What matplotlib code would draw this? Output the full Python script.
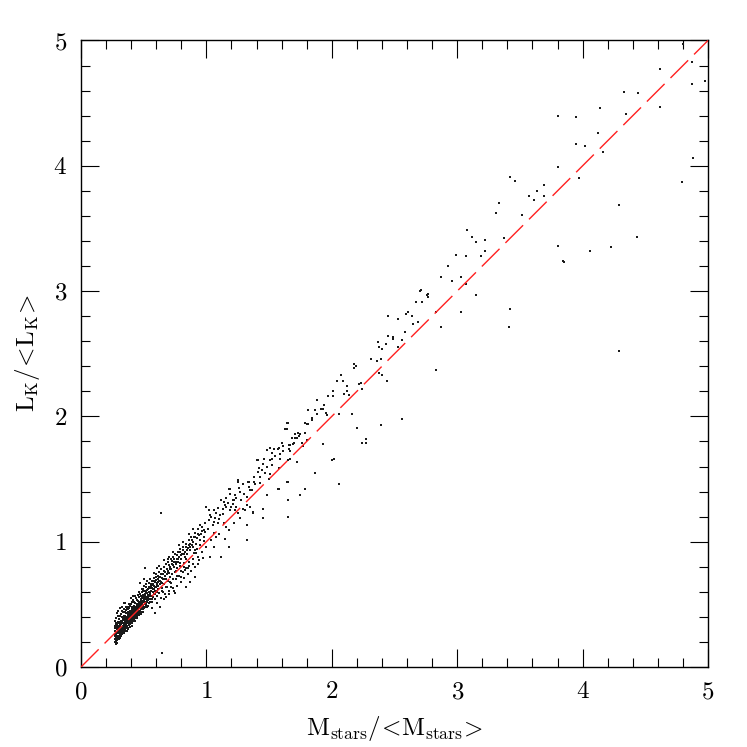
import numpy as np
import matplotlib
matplotlib.use("Agg")
import matplotlib.pyplot as plt
from matplotlib.ticker import MultipleLocator

plt.rcParams['mathtext.fontset'] = 'cm'
plt.rcParams['axes.formatter.use_mathtext'] = True

# dense core, M_stars/<M> ~ 0.27-0.50
core = [
    (0.270, 0.22), (0.270, 0.26), (0.272, 0.29), (0.271, 0.33), (0.274, 0.20), (0.276, 0.24),
    (0.277, 0.27), (0.275, 0.31), (0.278, 0.35), (0.281, 0.23), (0.282, 0.28), (0.280, 0.32),
    (0.283, 0.39), (0.280, 0.21), (0.286, 0.25), (0.288, 0.30), (0.285, 0.34), (0.287, 0.19),
    (0.291, 0.22), (0.292, 0.27), (0.290, 0.31), (0.293, 0.36), (0.296, 0.29), (0.297, 0.33),
    (0.298, 0.25), (0.295, 0.41), (0.301, 0.24), (0.302, 0.28), (0.300, 0.32), (0.304, 0.35),
    (0.306, 0.30), (0.307, 0.38), (0.309, 0.26), (0.311, 0.23), (0.312, 0.29), (0.314, 0.33),
    (0.313, 0.36), (0.316, 0.31), (0.317, 0.42), (0.318, 0.27), (0.321, 0.30), (0.322, 0.34),
    (0.320, 0.37), (0.324, 0.28), (0.326, 0.32), (0.325, 0.40), (0.328, 0.35), (0.331, 0.26),
    (0.332, 0.31), (0.330, 0.36), (0.334, 0.33), (0.336, 0.39), (0.337, 0.29), (0.338, 0.44),
    (0.341, 0.32), (0.342, 0.35), (0.340, 0.38), (0.344, 0.30), (0.346, 0.34), (0.347, 0.41),
    (0.349, 0.37), (0.351, 0.33), (0.352, 0.29), (0.350, 0.36), (0.354, 0.39), (0.356, 0.35),
    (0.357, 0.43), (0.358, 0.31), (0.361, 0.34), (0.362, 0.38), (0.360, 0.40), (0.364, 0.36),
    (0.366, 0.46), (0.367, 0.33), (0.369, 0.39), (0.371, 0.37), (0.372, 0.41), (0.370, 0.35),
    (0.374, 0.30), (0.376, 0.38), (0.377, 0.44), (0.379, 0.40), (0.381, 0.36), (0.382, 0.42),
    (0.380, 0.39), (0.384, 0.47), (0.386, 0.34), (0.387, 0.41), (0.389, 0.38), (0.391, 0.43),
    (0.392, 0.40), (0.390, 0.36), (0.394, 0.45), (0.396, 0.39), (0.397, 0.50), (0.399, 0.42),
    (0.401, 0.37), (0.402, 0.44), (0.400, 0.41), (0.404, 0.39), (0.406, 0.46), (0.407, 0.43),
    (0.409, 0.35), (0.411, 0.40), (0.412, 0.45), (0.410, 0.48), (0.414, 0.42), (0.416, 0.38),
    (0.417, 0.44), (0.419, 0.52), (0.421, 0.41), (0.422, 0.46), (0.420, 0.43), (0.424, 0.49),
    (0.426, 0.40), (0.427, 0.45), (0.429, 0.37), (0.431, 0.44), (0.432, 0.47), (0.430, 0.42),
    (0.434, 0.51), (0.436, 0.46), (0.437, 0.41), (0.439, 0.48), (0.441, 0.43), (0.442, 0.45),
    (0.440, 0.55), (0.444, 0.39), (0.446, 0.47), (0.447, 0.50), (0.449, 0.44), (0.452, 0.46),
    (0.453, 0.42), (0.451, 0.53), (0.456, 0.48), (0.457, 0.45), (0.459, 0.51), (0.462, 0.47),
    (0.463, 0.43), (0.461, 0.56), (0.466, 0.49), (0.467, 0.52), (0.469, 0.45), (0.472, 0.50),
    (0.473, 0.47), (0.471, 0.58), (0.476, 0.42), (0.477, 0.53), (0.479, 0.49), (0.482, 0.51),
    (0.483, 0.55), (0.481, 0.46), (0.486, 0.60), (0.487, 0.50), (0.489, 0.53), (0.492, 0.48),
    (0.493, 0.56), (0.491, 0.44), (0.496, 0.52), (0.497, 0.62), (0.499, 0.54),
    (0.272, 0.37), (0.284, 0.43), (0.298, 0.45), (0.310, 0.47), (0.279, 0.18), (0.305, 0.22),
    (0.323, 0.25), (0.343, 0.27), (0.365, 0.29), (0.388, 0.32), (0.408, 0.33), (0.328, 0.48),
    (0.353, 0.51), (0.375, 0.48), (0.395, 0.55), (0.418, 0.57), (0.343, 0.51), (0.36, 0.48),
]

# extra fill of the densest part, 0.27-0.62
core_fill = [
    (0.273, 0.245), (0.279, 0.265), (0.284, 0.305), (0.289, 0.245), (0.294, 0.315), (0.299, 0.275),
    (0.303, 0.305), (0.308, 0.335), (0.312, 0.255), (0.315, 0.355), (0.319, 0.315), (0.323, 0.345),
    (0.327, 0.295), (0.333, 0.375), (0.335, 0.325), (0.339, 0.355), (0.345, 0.385), (0.348, 0.315),
    (0.353, 0.345), (0.355, 0.405), (0.359, 0.365), (0.363, 0.325), (0.368, 0.375), (0.373, 0.425),
    (0.378, 0.355), (0.383, 0.395), (0.385, 0.435), (0.388, 0.375), (0.393, 0.415), (0.398, 0.365),
    (0.403, 0.425), (0.405, 0.455), (0.408, 0.385), (0.413, 0.435), (0.418, 0.405), (0.423, 0.445),
    (0.425, 0.475), (0.428, 0.415), (0.433, 0.455), (0.438, 0.435), (0.443, 0.485), (0.448, 0.425),
    (0.454, 0.495), (0.458, 0.465), (0.464, 0.515), (0.468, 0.435), (0.474, 0.485), (0.478, 0.545),
    (0.485, 0.475), (0.488, 0.525), (0.494, 0.575), (0.498, 0.495), (0.503, 0.535), (0.507, 0.505),
    (0.512, 0.565), (0.516, 0.595), (0.521, 0.545), (0.526, 0.515), (0.529, 0.615), (0.534, 0.575),
    (0.538, 0.535), (0.542, 0.635), (0.547, 0.595), (0.552, 0.565), (0.555, 0.645), (0.560, 0.605),
    (0.565, 0.545), (0.570, 0.655), (0.574, 0.625), (0.579, 0.585), (0.584, 0.685), (0.589, 0.635),
    (0.593, 0.605), (0.598, 0.695), (0.603, 0.655), (0.607, 0.595), (0.612, 0.725), (0.616, 0.675),
    (0.281, 0.335), (0.291, 0.355), (0.301, 0.385), (0.311, 0.405), (0.321, 0.425), (0.331, 0.445),
    (0.342, 0.465), (0.352, 0.435), (0.363, 0.455), (0.373, 0.465), (0.383, 0.505), (0.393, 0.485),
    (0.403, 0.515), (0.413, 0.535), (0.423, 0.515), (0.433, 0.565), (0.445, 0.535), (0.455, 0.575),
    (0.465, 0.595), (0.475, 0.565), (0.485, 0.625), (0.495, 0.605), (0.505, 0.645), (0.515, 0.665),
    (0.286, 0.215), (0.297, 0.235), (0.308, 0.245), (0.318, 0.285), (0.329, 0.275), (0.339, 0.305),
    (0.349, 0.295), (0.359, 0.325), (0.371, 0.315), (0.381, 0.335), (0.391, 0.345), (0.402, 0.355),
    (0.414, 0.365), (0.426, 0.385), (0.438, 0.395), (0.450, 0.405), (0.462, 0.415), (0.474, 0.445),
    (0.486, 0.435), (0.498, 0.465), (0.510, 0.475), (0.522, 0.495), (0.536, 0.485), (0.550, 0.515),
]

# main band, 0.50-1.0
band = [
    (0.502, 0.47), (0.505, 0.55), (0.508, 0.58), (0.511, 0.52), (0.514, 0.61), (0.517, 0.50),
    (0.519, 0.56), (0.522, 0.64), (0.524, 0.53), (0.527, 0.59), (0.530, 0.48), (0.532, 0.57),
    (0.535, 0.62), (0.537, 0.55), (0.540, 0.67), (0.543, 0.51), (0.545, 0.60), (0.548, 0.58),
    (0.551, 0.63), (0.553, 0.54), (0.556, 0.66), (0.559, 0.61), (0.561, 0.57), (0.564, 0.69),
    (0.567, 0.52), (0.569, 0.63), (0.572, 0.60), (0.575, 0.66), (0.577, 0.56), (0.580, 0.71),
    (0.583, 0.62), (0.586, 0.65), (0.588, 0.58), (0.591, 0.68), (0.594, 0.54), (0.596, 0.64),
    (0.599, 0.74), (0.602, 0.61), (0.605, 0.67), (0.608, 0.57), (0.611, 0.70), (0.614, 0.65),
    (0.617, 0.62), (0.620, 0.76), (0.623, 0.59), (0.626, 0.69), (0.629, 0.66), (0.632, 0.72),
    (0.635, 0.55), (0.638, 0.68), (0.641, 0.78), (0.644, 0.63), (0.647, 0.71), (0.650, 0.67),
    (0.653, 0.74), (0.656, 0.60), (0.659, 0.70), (0.662, 0.80), (0.665, 0.66), (0.668, 0.73),
    (0.671, 0.58), (0.674, 0.76), (0.677, 0.70), (0.680, 0.82), (0.684, 0.64), (0.687, 0.74),
    (0.690, 0.77), (0.694, 0.69), (0.697, 0.84), (0.700, 0.61), (0.704, 0.75), (0.707, 0.80),
    (0.711, 0.72), (0.714, 0.86), (0.718, 0.67), (0.721, 0.78), (0.725, 0.82), (0.728, 0.74),
    (0.732, 0.88), (0.735, 0.63), (0.739, 0.80), (0.743, 0.84), (0.746, 0.76), (0.750, 0.90),
    (0.754, 0.70), (0.758, 0.82), (0.762, 0.86), (0.765, 0.65), (0.769, 0.79), (0.773, 0.92),
    (0.777, 0.84), (0.781, 0.73), (0.785, 0.88), (0.789, 0.81), (0.793, 0.94), (0.797, 0.68),
    (0.801, 0.86), (0.806, 0.90), (0.810, 0.76), (0.814, 0.96), (0.818, 0.83), (0.823, 0.71),
    (0.827, 0.92), (0.832, 0.88), (0.836, 0.98), (0.841, 0.79), (0.845, 0.90), (0.850, 0.74),
    (0.855, 0.95), (0.860, 1.01), (0.865, 0.84), (0.870, 0.93), (0.875, 0.77), (0.880, 1.04),
    (0.885, 0.97), (0.890, 0.82), (0.896, 1.00), (0.901, 0.91), (0.907, 1.07), (0.912, 0.80),
    (0.918, 0.98), (0.924, 1.03), (0.930, 0.88), (0.936, 1.10), (0.942, 0.85), (0.948, 1.01),
    (0.955, 1.06), (0.962, 0.92), (0.969, 1.12), (0.976, 0.87), (0.983, 1.04), (0.990, 1.15),
    (0.997, 0.96),
    (0.51, 0.79), (0.62, 0.81), (0.47, 0.67), (0.50, 0.70), (0.34, 0.51), (0.36, 0.48),
    (0.64, 1.23), (0.65, 0.11), (0.59, 0.43), (0.63, 0.48), (0.72, 0.64), (0.75, 0.59),
    (0.68, 0.56), (0.87, 0.68), (0.91, 0.72), (0.84, 0.64), (0.79, 0.83), (0.82, 0.80),
    (0.76, 0.77), (0.84, 0.86), (0.87, 0.96), (0.91, 0.93), (0.92, 0.91), (0.90, 1.04),
    (0.94, 1.05), (0.98, 1.09), (0.55, 0.70), (0.58, 0.75), (0.61, 0.79), (0.66, 0.85),
    (0.70, 0.88), (0.57, 0.47), (0.61, 0.51), (0.66, 0.54), (0.70, 0.58), (0.74, 0.61),
    (0.53, 0.69), (0.60, 0.72), (0.69, 0.86), (0.73, 0.92), (0.78, 0.97), (0.81, 1.00),
    (0.86, 1.06), (0.89, 1.10), (0.95, 1.13), (0.80, 0.72), (0.85, 0.79), (0.93, 0.82),
    (0.625, 0.715), (0.633, 0.685), (0.642, 0.745), (0.651, 0.705), (0.663, 0.765), (0.672, 0.725),
    (0.683, 0.785), (0.692, 0.755), (0.703, 0.815), (0.713, 0.785), (0.723, 0.845), (0.733, 0.815),
    (0.744, 0.865), (0.755, 0.835), (0.766, 0.895), (0.776, 0.865), (0.788, 0.915), (0.799, 0.895),
    (0.811, 0.935), (0.822, 0.905), (0.834, 0.955), (0.846, 0.935), (0.858, 0.975), (0.871, 0.985),
    (0.884, 1.015), (0.897, 0.955), (0.910, 1.035), (0.923, 0.945), (0.937, 1.065), (0.951, 0.975),
    (0.964, 1.085), (0.978, 1.005), (0.992, 1.075), (0.645, 0.605), (0.676, 0.635), (0.706, 0.675),
    (0.736, 0.705), (0.767, 0.725), (0.798, 0.765), (0.829, 0.775), (0.861, 0.805), (0.892, 0.865),
]

# sparser region, 1.0-2.0
mid = [
    (1.00, 1.28), (1.02, 1.25), (1.06, 1.25), (1.08, 1.23), (1.04, 1.20), (1.07, 1.19),
    (1.03, 1.21), (1.23, 1.25), (1.25, 1.23), (1.45, 1.19), (1.65, 1.20), (1.12, 1.33),
    (1.14, 1.32), (1.16, 1.28), (1.19, 1.25), (1.19, 1.42), (1.19, 1.38), (1.23, 1.37),
    (1.22, 1.33), (1.20, 1.28), (1.24, 1.28), (1.36, 1.41), (1.32, 1.36), (1.28, 1.33),
    (1.25, 1.48), (1.29, 1.46), (1.34, 1.48), (1.39, 1.46), (1.32, 1.29), (1.35, 1.28),
    (1.31, 1.25), (1.37, 1.24), (1.45, 1.26), (1.37, 1.23), (1.48, 1.37), (1.57, 1.42),
    (1.65, 1.33), (1.75, 1.37), (1.64, 1.48), (1.41, 1.65), (1.45, 1.62), (1.44, 1.57),
    (1.48, 1.60), (1.41, 1.56), (1.67, 1.66), (1.72, 1.64), (1.55, 1.68), (1.51, 1.65),
    (1.52, 1.61), (1.48, 1.73), (1.52, 1.71), (1.59, 1.70), (1.61, 1.72), (1.51, 1.75),
    (1.54, 1.74), (1.57, 1.74), (1.60, 1.79), (1.61, 1.76), (1.77, 1.76), (1.80, 1.81),
    (1.68, 1.83), (1.69, 1.78), (1.67, 1.77), (1.71, 1.86), (1.74, 1.84), (1.72, 1.83),
    (1.64, 1.95), (1.63, 1.90), (1.80, 1.94), (1.79, 1.87), (1.40, 1.65), (1.41, 1.56),
    (1.25, 1.49), (1.33, 1.48), (1.38, 1.48), (1.18, 1.42), (1.21, 1.33), (1.24, 1.35),
    (1.30, 1.38), (1.35, 1.41), (1.15, 1.29), (1.37, 1.23), (1.32, 1.13), (1.32, 1.01),
    (1.18, 1.09), (1.14, 1.15), (1.12, 0.88), (1.18, 0.96), (1.03, 0.88), (1.06, 1.07),
    (1.08, 1.04), (1.04, 1.01), (1.10, 1.18), (1.11, 1.21), (1.13, 1.26), (1.17, 1.31),
    (1.09, 1.15), (1.05, 1.13), (1.01, 1.10), (1.27, 1.40), (1.43, 1.52), (1.47, 1.55),
    (1.58, 1.59), (1.42, 1.59), (1.51, 1.54), (1.50, 1.50), (1.52, 1.66), (1.59, 1.66),
    (1.65, 1.65), (1.58, 1.42), (1.65, 1.48), (1.79, 1.42), (1.75, 1.37), (1.48, 1.37),
    (1.87, 1.55), (1.66, 1.77), (1.66, 1.74), (1.67, 1.72), (1.58, 1.75), (1.70, 1.79),
    (1.76, 1.79), (1.71, 1.83), (1.73, 1.87), (1.75, 1.86), (1.79, 1.87), (1.81, 1.94),
    (1.84, 1.97), (1.65, 1.95), (1.64, 1.90), (1.81, 2.05), (1.87, 2.05), (1.88, 2.02),
    (1.84, 1.99), (1.79, 1.95), (1.93, 1.78), (2.00, 1.65), (2.02, 1.66), (1.88, 2.13),
    (1.91, 2.06), (1.93, 2.06), (1.95, 2.03), (1.96, 2.01), (1.94, 2.09), (1.97, 2.16),
    (1.02, 1.17), (1.06, 1.16), (1.09, 1.27), (1.13, 1.22), (1.16, 1.35), (1.21, 1.30),
    (1.26, 1.43), (1.29, 1.26), (1.34, 1.44), (1.38, 1.52), (1.43, 1.47), (1.46, 1.66),
    (1.10, 1.06), (1.16, 1.12), (1.22, 1.15), (1.27, 1.19), (1.06, 0.96), (1.15, 1.02),
]

# upper tail, > 2
tail = [
    (2.01, 2.16), (2.01, 2.20), (2.07, 2.33), (2.04, 2.28), (2.09, 2.28), (2.23, 2.27),
    (2.22, 2.26), (2.12, 2.24), (2.12, 2.20), (2.24, 2.22), (2.10, 2.18), (2.14, 2.17),
    (2.06, 2.02), (2.16, 2.02), (2.20, 1.91), (2.24, 1.79), (2.27, 1.82), (2.27, 1.79),
    (2.39, 1.93), (2.56, 1.98), (2.06, 1.46), (2.18, 2.42), (2.19, 2.40), (2.18, 2.39),
    (2.31, 2.46), (2.36, 2.44), (2.39, 2.46), (2.38, 2.35), (2.40, 2.33), (2.44, 2.28),
    (2.37, 2.59), (2.43, 2.58), (2.53, 2.55), (2.38, 2.55), (2.40, 2.54), (2.45, 2.64),
    (2.49, 2.63), (2.49, 2.62), (2.56, 2.61), (2.58, 2.67), (2.45, 2.80), (2.53, 2.78),
    (2.69, 2.75), (2.65, 2.74), (2.61, 2.83), (2.59, 2.82), (2.64, 2.80), (2.67, 2.91),
    (2.72, 2.91), (2.70, 3.00), (2.77, 2.98), (2.77, 2.95), (2.71, 3.01), (2.76, 2.97),
    (2.72, 2.91), (2.83, 2.83), (2.83, 2.37), (2.87, 2.71), (2.87, 3.11), (2.93, 3.20),
    (2.96, 3.08), (3.03, 3.11), (3.07, 3.06), (3.03, 2.83), (3.15, 2.97), (2.99, 3.29),
    (3.07, 3.28), (3.19, 3.28), (3.22, 3.32), (3.08, 3.49), (3.12, 3.43), (3.15, 3.39),
    (3.22, 3.41), (3.37, 3.42), (3.33, 3.70), (3.31, 3.62), (3.52, 3.61), (3.42, 3.91),
    (3.46, 3.88), (3.57, 3.76), (3.69, 3.76), (3.64, 3.80), (3.69, 3.85), (3.61, 3.73),
    (3.42, 2.86), (3.41, 2.71), (3.80, 3.99), (3.97, 3.90), (3.80, 3.36), (3.84, 3.24),
    (3.85, 3.23), (4.06, 3.32), (4.23, 3.35), (4.43, 3.43), (4.29, 3.69), (4.29, 2.52),
    (3.95, 4.17), (4.02, 4.16), (4.16, 4.11), (4.12, 4.26), (3.80, 4.40), (3.95, 4.39),
    (4.35, 4.41), (4.14, 4.46), (4.62, 4.47), (4.33, 4.59), (4.44, 4.58), (4.62, 4.77),
    (4.87, 4.65), (4.98, 4.68), (4.87, 4.83), (4.80, 4.97), (4.88, 4.06), (4.79, 3.87),
]

# one-to-one reference line
line_x = [0.0, 5.0]
line_y = [0.0, 5.0]

pts = np.array(core + core_fill + band + mid + tail)

fig = plt.figure(figsize=(7.47, 7.47), dpi=100)
ax = fig.add_axes([0.1084, 0.1071, 0.8394, 0.8387])

ax.scatter(pts[:, 0], pts[:, 1], s=1.1, marker='s', c='0.1', linewidths=0, zorder=2)
ax.plot(line_x, line_y, color='#ff2020', lw=1.0, dashes=(18, 6), zorder=3)

ax.set_xlim(0, 5)
ax.set_ylim(0, 5)
ax.xaxis.set_major_locator(MultipleLocator(1))
ax.xaxis.set_minor_locator(MultipleLocator(0.2))
ax.yaxis.set_major_locator(MultipleLocator(1))
ax.yaxis.set_minor_locator(MultipleLocator(0.2))
ax.tick_params(which='both', direction='in', top=True, right=True, width=0.8, colors='black')
ax.tick_params(which='major', length=13, pad=10, labelsize=18)
ax.tick_params(which='minor', length=6.5)
for lab in ax.get_xticklabels() + ax.get_yticklabels():
    lab.set_family('cmr10')
for sp in ax.spines.values():
    sp.set_linewidth(1.0)

ax.set_xlabel(r'$\mathrm{M_{stars}/\!<\!M_{stars}\!>}$', fontsize=18, labelpad=8)
ax.set_ylabel(r'$\mathrm{L_K/\!<\!L_K\!>}$', fontsize=18, labelpad=8)

fig.savefig('out.png', dpi=100)
